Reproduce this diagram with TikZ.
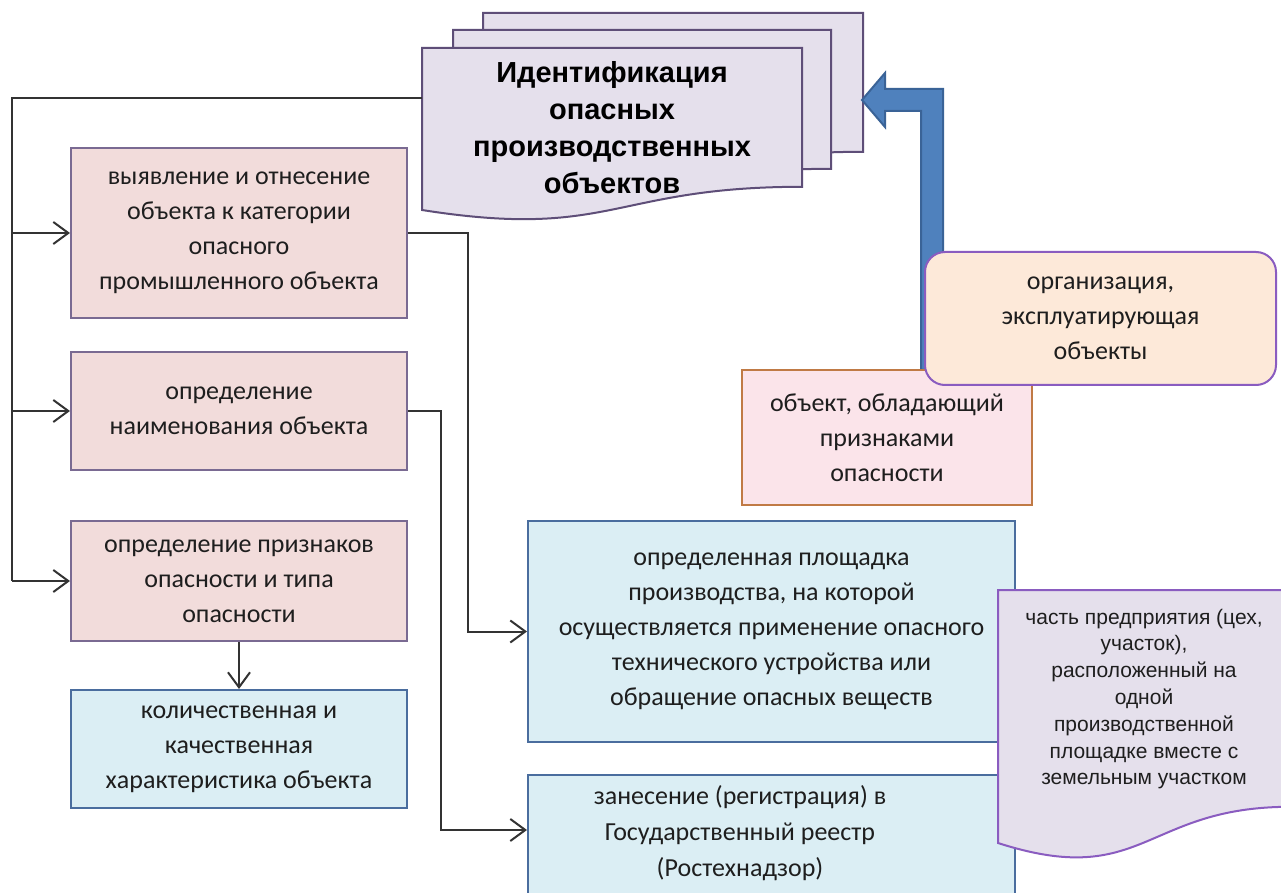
\documentclass[tikz,border=0pt]{standalone}
\usepackage{fontspec}
\setmainfont{Carlito}
\newfontfamily\titlefont{Liberation Sans}
\newfontfamily\arialfont{Liberation Sans}
\usetikzlibrary{arrows.meta}
\definecolor{pinkfill}{HTML}{F2DCDB}
\definecolor{pinkline}{HTML}{7A6A92}
\definecolor{bluefill}{HTML}{DBEEF4}
\definecolor{blueline}{HTML}{4A6D9E}
\definecolor{docfill}{HTML}{E5E0EC}
\definecolor{docline}{HTML}{5E4E78}
\definecolor{purpline}{HTML}{8A5CC0}
\definecolor{peach}{HTML}{FDE9D9}
\definecolor{rosefill}{HTML}{FBE4EA}
\definecolor{roseline}{HTML}{C07A45}
\definecolor{arrowfill}{HTML}{4F81BD}
\definecolor{arrowline}{HTML}{3A6397}
\definecolor{conncol}{HTML}{333333}
\definecolor{txt}{HTML}{1E1E1E}
\tikzset{
  boxbase/.style={draw, line width=1pt, inner sep=0pt, align=center, text=txt,
    font=\fontsize{13}{17.5}\selectfont},
  pinkbox/.style={boxbase, fill=pinkfill, draw=pinkline},
  bluebox/.style={boxbase, fill=bluefill, draw=blueline},
  rosebox/.style={boxbase, fill=rosefill, draw=roseline},
  peachbox/.style={boxbase, fill=peach, draw=purpline, rounded corners=10pt},
  docshape/.style={fill=docfill, draw=docline, line width=1pt},
  bigdoc/.style={fill=docfill, draw=purpline, line width=1pt},
  conn/.style={draw=conncol, line width=1pt},
  arr/.style={conn, -{Straight Barb[length=7.5pt,width=11pt,line width=1pt]}},
  bigarrow/.style={fill=arrowfill, draw=arrowline, line width=1pt},
}
\begin{document}
\begin{tikzpicture}[x=0.5pt,y=-0.5pt]
\useasboundingbox (0,0) rectangle (1281,893);
\clip (0,0) rectangle (1281,893);
\fill[white] (0,0) rectangle (1281,893);

% stacked documents
\path[docshape] (483,13) -- (863,13) -- (863,151.8) .. controls (673,151.8) and (673,205) .. (483,175) -- cycle;
\path[docshape] (453,30) -- (831,30) -- (831,168.8) .. controls (642,168.8) and (642,222) .. (453,192) -- cycle;
\path[docshape] (422,48) -- (802,48) -- (802,186.8) .. controls (612,186.8) and (612,240) .. (422,210) -- cycle;
\node[align=center, text=black, font=\titlefont\bfseries\fontsize{14.5}{18.5}\selectfont] (title) at (612,128)
  {Идентификация\\опасных\\производственных\\объектов};
\coordinate (docL) at (422,98);
\coordinate (busx) at (12,0);

% big bent arrow
\path[bigarrow] (943,370) -- (943,89) -- (885,89) -- (885,73) -- (862,100) -- (885,127) -- (885,111) -- (921,111) -- (921,370) -- cycle;

% left boxes
\node[pinkbox, minimum width=168pt, minimum height=85pt] (b1) at (239,233)
  {выявление и отнесение\\объекта к категории\\опасного\\промышленного объекта};
\node[pinkbox, minimum width=168pt, minimum height=59pt] (b2) at (239,411)
  {определение\\наименования объекта};
\node[pinkbox, minimum width=168pt, minimum height=60pt] (b3) at (239,581)
  {определение признаков\\опасности и типа\\опасности};
\node[bluebox, minimum width=168pt, minimum height=59pt] (b4) at (239,749)
  {количественная и\\качественная\\характеристика объекта};

% right boxes
\node[bluebox, minimum width=243.5pt, minimum height=110.5pt] (b5) at (771.5,631.5)
  {определенная площадка\\производства, на которой\\осуществляется применение опасного\\технического устройства или\\обращение опасных веществ};
\node[bluebox, minimum width=243.5pt, minimum height=62.5pt] (b6) at (771.5,837.5) {};
\node[align=center, text=txt, font=\fontsize{13}{18}\selectfont] (b6text) at (740,833)
  {занесение (регистрация) в\\Государственный реестр\\(Ростехнадзор)};

\node[rosebox, minimum width=145pt, minimum height=67.5pt] (obj) at (887,437.5)
  {объект, обладающий\\признаками\\опасности};
\node[peachbox, minimum width=175.5pt, minimum height=66.5pt] (org) at (1100.5,318.5)
  {организация,\\эксплуатирующая\\объекты};

% bottom-right document
\path[bigdoc] (998,590) -- (1290,590) -- (1290,806.8) .. controls (1144,806.8) and (1144,890) .. (998,843) -- cycle;
\node[align=center, text=txt, font=\arialfont\fontsize{10.5}{13.4}\selectfont] (part) at (1144,699)
  {часть предприятия (цех,\\участок),\\расположенный на\\одной\\производственной\\площадке вместе с\\земельным участком};

% connectors
\draw[conn] (docL) -- (docL -| busx) -- (b3.west -| busx);
\draw[arr] (b1.west -| busx) -- (b1.west);
\draw[arr] (b2.west -| busx) -- (b2.west);
\draw[arr] (b3.west -| busx) -- (b3.west);
\draw[arr] (b3.south) -- (b4.north);
\draw[arr] (b1.east) -- ++(60,0) |- (b5.west);
\draw[arr] (b2.east) -- ++(33,0) |- ([yshift=3.75pt]b6.west);
\end{tikzpicture}
\end{document}
